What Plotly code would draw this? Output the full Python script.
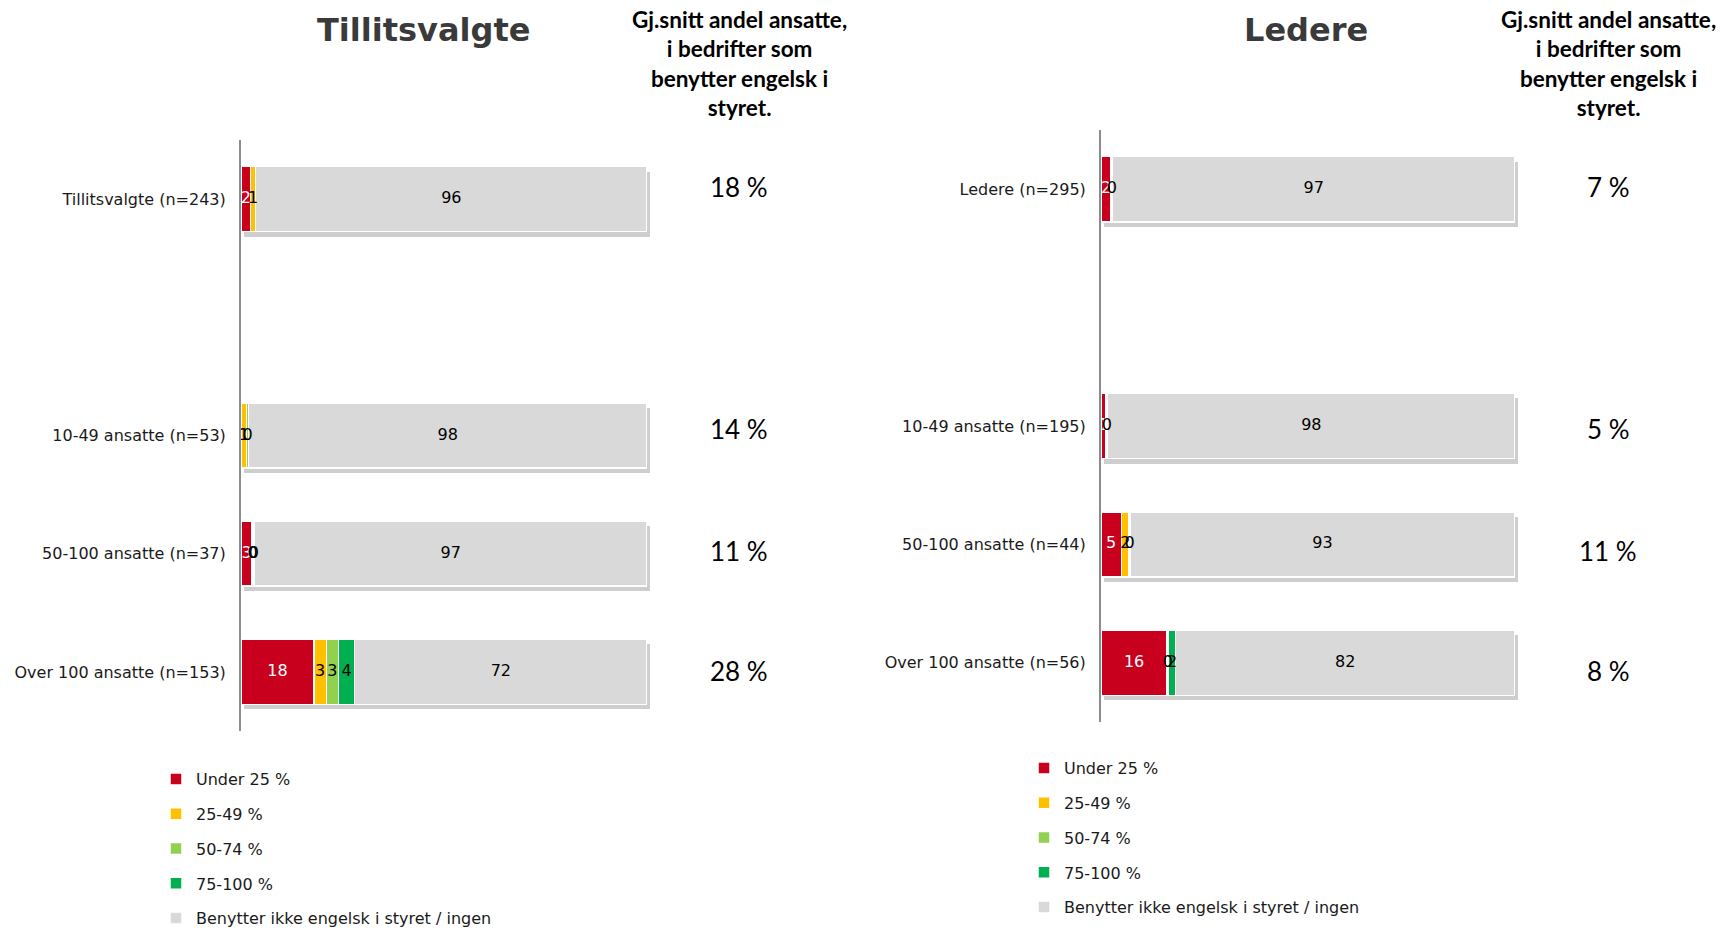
import plotly.graph_objects as go

# ---------------- data ----------------
series_names = ["Under 25 %", "25-49 %", "50-74 %", "75-100 %", "Benytter ikke engelsk i styret / ingen"]
series_colors = ["#C8001E", "#FFC000", "#92D050", "#00B050", "#D9D9D9"]
text_colors = ["#FFFFFF", "#000000", "#000000", "#000000", "#000000"]

left_title = "Tillitsvalgte"
left_cats = ["Tillitsvalgte (n=243)", " ", "10-49 ansatte (n=53)", "50-100 ansatte (n=37)", "Over 100 ansatte (n=153)"]
left_under25 = [2.4, None, None, 2.7, 18]
left_2549 = [1.2, None, 1.4, 0.3, 3]
left_5074 = [None, None, 0.4, 0.3, 3]
left_75100 = [None, None, None, None, 4]
left_ingen = [96.4, None, 98.2, 96.7, 72]
left_avg = ["18 %", "14 %", "11 %", "28 %"]

right_title = "Ledere"
right_cats = ["Ledere (n=295)", " ", "10-49 ansatte (n=195)", "50-100 ansatte (n=44)", "Over 100 ansatte (n=56)"]
right_under25 = [2.4, None, 1.2, 4.9, 16]
right_2549 = [0.4, None, 0.4, 1.9, 0.3]
right_5074 = [None, None, None, 0.2, None]
right_75100 = [None, None, None, None, 1.7]
right_ingen = [97.2, None, 98.4, 93.0, 82]
right_avg = ["7 %", "5 %", "11 %", "8 %"]

header_text = "Gj.snitt andel ansatte,<br>i bedrifter som<br>benytter engelsk i<br>styret."

# ---------------- figure ----------------
W, H = 1723, 928
fig = go.Figure()

left_series = [left_under25, left_2549, left_5074, left_75100, left_ingen]
right_series = [right_under25, right_2549, right_5074, right_75100, right_ingen]


def row_totals(series):
    out = []
    for vals in zip(*series):
        nums = [v for v in vals if v is not None]
        out.append(sum(nums) if nums else None)
    return out


def segment_centers(series):
    """Centre of every stacked segment, derived from the values themselves."""
    n = len(series[0])
    base = [0.0] * n
    centers = []
    for vals in series:
        c = []
        for i, v in enumerate(vals):
            if v is None:
                c.append(None)
            else:
                c.append(base[i] + v / 2.0)
                base[i] += v
        centers.append(c)
    return centers


# drop shadows (drawn first, on the lower subplots)
for cats, series, xa, ya in [(left_cats, left_series, "x", "y"), (right_cats, right_series, "x2", "y2")]:
    fig.add_trace(go.Bar(
        orientation="h", x=row_totals(series), y=cats, xaxis=xa, yaxis=ya,
        marker=dict(color="#C6C6C6", line=dict(width=0)), opacity=0.85,
        showlegend=False, hoverinfo="skip",
    ))

# main stacked bars + value labels on top
for side, cats, series, xa, ya, lg in [
    ("L", left_cats, left_series, "x3", "y3", "legend"),
    ("R", right_cats, right_series, "x4", "y4", "legend2"),
]:
    for name, vals, col in zip(series_names, series, series_colors):
        fig.add_trace(go.Bar(
            orientation="h",
            x=vals,
            y=cats,
            name=name,
            legend=lg,
            legendgroup=side + name,
            xaxis=xa,
            yaxis=ya,
            marker=dict(color=col, line=dict(color="#FFFFFF", width=1.5)),
            hoverinfo="skip",
        ))
    for name, vals, cen, tcol in zip(series_names, series, segment_centers(series), text_colors):
        fig.add_trace(go.Scatter(
            x=cen, y=cats, customdata=vals, mode="text",
            texttemplate="%{customdata:.0f}", textposition="middle center",
            textfont=dict(family="DejaVu Sans", size=16, color=tcol),
            xaxis=xa, yaxis=ya, showlegend=False, hoverinfo="skip", cliponaxis=False,
        ))


def px_x(p):
    return p / W


def px_y(p):
    return 1 - p / H


hidden_x = dict(range=[0, 100], showgrid=False, zeroline=False, showline=False,
                showticklabels=False, ticks="", fixedrange=True)
hidden_y = dict(type="category", showgrid=False, zeroline=False, showline=False,
                showticklabels=False, ticks="", range=[4.5, -0.5], fixedrange=True)
main_y = dict(type="category", showgrid=False, zeroline=False, showline=True,
              linecolor="#8C8C8C", linewidth=2, ticks="", ticklabelstandoff=10,
              tickfont=dict(family="DejaVu Sans", size=16, color="#1A1A1A"),
              range=[4.5, -0.5], fixedrange=True)

legend_common = dict(xanchor="left", yanchor="top", traceorder="grouped", tracegroupgap=11,
                     font=dict(family="DejaVu Sans", size=16, color="#1A1A1A"),
                     bgcolor="rgba(0,0,0,0)")

SX, SY = 3, 5  # shadow offset in pixels

fig.update_layout(
    width=W, height=H,
    margin=dict(l=0, r=0, t=0, b=0, autoexpand=False),
    paper_bgcolor="white", plot_bgcolor="rgba(0,0,0,0)",
    barmode="stack", bargap=0.45,
    # shadow subplots
    xaxis=dict(domain=[px_x(241 + SX), px_x(647 + SX)], anchor="y", **hidden_x),
    yaxis=dict(domain=[px_y(731 + SY), px_y(140 + SY)], anchor="x", categoryarray=left_cats, **hidden_y),
    xaxis2=dict(domain=[px_x(1101 + SX), px_x(1515 + SX)], anchor="y2", **hidden_x),
    yaxis2=dict(domain=[px_y(722 + SY), px_y(130 + SY)], anchor="x2", categoryarray=right_cats, **hidden_y),
    # main subplots
    xaxis3=dict(domain=[px_x(241), px_x(647)], anchor="y3", **hidden_x),
    yaxis3=dict(domain=[px_y(731), px_y(140)], anchor="x3", categoryarray=left_cats, **main_y),
    xaxis4=dict(domain=[px_x(1101), px_x(1515)], anchor="y4", **hidden_x),
    yaxis4=dict(domain=[px_y(722), px_y(130)], anchor="x4", categoryarray=right_cats, **main_y),
    legend=dict(x=px_x(156), y=px_y(762), **legend_common),
    legend2=dict(x=px_x(1024), y=px_y(751), **legend_common),
    showlegend=True,
)

annotations = []
# titles
for t, cx in [(left_title, 423), (right_title, 1306)]:
    annotations.append(dict(text="<b>%s</b>" % t, x=px_x(cx), y=px_y(30), xref="paper", yref="paper",
                            xanchor="center", yanchor="middle", showarrow=False,
                            font=dict(family="DejaVu Sans", size=32, color="#3A3A3A")))
# headers
for cx in [739, 1608]:
    annotations.append(dict(text="<b>%s</b>" % header_text, x=px_x(cx), y=px_y(4), xref="paper", yref="paper",
                            xanchor="center", yanchor="top", showarrow=False, align="center",
                            font=dict(family="Lato", size=22.5, color="#000000")))
# average values
row_y = [187, 429, 551, 671]
for vals, cx in [(left_avg, 739), (right_avg, 1608)]:
    for v, ry in zip(vals, row_y):
        annotations.append(dict(text=v, x=px_x(cx), y=px_y(ry), xref="paper", yref="paper",
                                xanchor="center", yanchor="middle", showarrow=False,
                                font=dict(family="Lato", size=26, color="#000000")))
fig.update_layout(annotations=annotations)

fig.write_html("out.html", config={"displayModeBar": False},
               post_script="document.body.style.margin='0';document.body.style.overflow='hidden';")
